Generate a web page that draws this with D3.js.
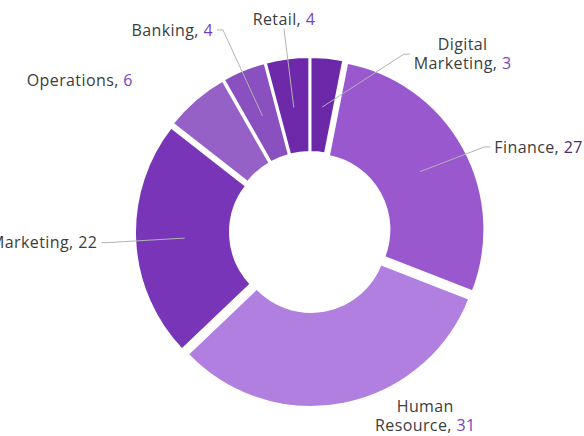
<!DOCTYPE html>
<html>
<head>
<meta charset="utf-8">
<script src="https://cdn.jsdelivr.net/npm/d3@7"></script>
<style>
  html, body { margin: 0; padding: 0; background: #fff; }
  svg { display: block; }
  text { font-family: "Open Sans", "Noto Sans", sans-serif; font-size: 16px; letter-spacing: 0.4px; }
</style>
</head>
<body>
<svg id="chart" width="584" height="436"></svg>
<script>
// data, clockwise from 12 o'clock
const categories = ['Digital Marketing', 'Finance', 'Human Resource', 'Marketing', 'Operations', 'Banking', 'Retail'];
const values = [3, 27, 31, 22, 6, 4, 4];
// label text is split onto lines like the original
const labelLines = [['Digital', 'Marketing, '], ['Finance, '], ['Human', 'Resource, '], ['Marketing, '], ['Operations, '], ['Banking, '], ['Retail, ']];

const sliceColors = ['#6b28a9', '#9a58cf', '#b07fe0', '#7935b8', '#9661c7', '#8a50bf', '#6d29aa'];
const valueColors = ['#7a3fc0', '#4a2b72', '#7a3fc0', '#3d3d3d', '#7a3fc0', '#7a3fc0', '#7a3fc0'];

// where each label sits: angle (deg from top, clockwise), radius, anchor, connector shown?
const labelLayout = [
  { a: 27.8, r: 201, anchor: 'start', line: true },
  { a: 64, r: 194, anchor: 'start', line: true },
  { a: 145.6, r: 204, anchor: 'below', line: false },
  { a: 267, r: 203, anchor: 'end', line: true },
  { a: 312.3, r: 226, anchor: 'end', line: false },
  { a: 336.7, r: 220, anchor: 'end', line: true },
  { a: 352.7, r: 205, anchor: 'above', line: true }
];

const width = 584, height = 436;
const cx = 310, cy = 232;
const outerR = 170, innerR = 75, explode = 5;

const svg = d3.select('#chart');
const g = svg.append('g').attr('transform', `translate(${cx},${cy})`);

const pie = d3.pie().sort(null).value(d => d)(values);
const arc = d3.arc().innerRadius(innerR).outerRadius(outerR);

const polar = (r, a) => [r * Math.sin(a), -r * Math.cos(a)];
const mid = d => (d.startAngle + d.endAngle) / 2;

g.selectAll('.slice')
  .data(pie)
  .join('path')
  .attr('class', 'slice')
  .attr('d', arc)
  .attr('fill', (d, i) => sliceColors[i])
  .attr('stroke', '#fff')
  .attr('stroke-width', 2)
  .attr('transform', d => {
    const [x, y] = polar(explode, mid(d));
    return `translate(${x},${y})`;
  });

const tick = 6, gap = 4, lh = 19;

pie.forEach((d, i) => {
  const lay = labelLayout[i];
  const [px, py] = polar(lay.r, lay.a * Math.PI / 180);
  const dir = lay.anchor === 'start' ? 1 : lay.anchor === 'end' ? -1 : 0;

  if (lay.line) {
    const s = polar((innerR + outerR) / 2 + explode - 2, mid(d));
    const pts = [s, [px, py]];
    if (dir !== 0) pts.push([px + dir * tick, py]);
    g.append('path')
      .attr('d', d3.line()(pts))
      .attr('fill', 'none')
      .attr('stroke', '#b3b3b3')
      .attr('stroke-width', 1);
  }

  const lines = labelLines[i];
  let y0;
  if (lay.anchor === 'above') y0 = py - 9 - (lines.length - 1) * lh;
  else if (lay.anchor === 'below') y0 = py + 6;
  else y0 = py - (lines.length - 1) * lh / 2;

  // multi-line labels are centred on their own block
  const multi = lines.length > 1;
  const text = g.append('text')
    .attr('text-anchor', (multi || dir === 0) ? 'middle' : dir === 1 ? 'start' : 'end')
    .attr('fill', '#3d3d3d');

  const rows = lines.map((t, j) => {
    const ts = text.append('tspan')
      .attr('y', y0 + j * lh)
      .attr('dy', '0.35em')
      .text(t);
    if (j === lines.length - 1) {
      text.append('tspan').attr('fill', valueColors[i]).text(values[i]);
    }
    return ts;
  });

  // set x of each row (the value tspan follows its row)
  let tx = px + dir * (tick + gap);
  if (multi && dir !== 0) {
    const bw = d3.max(lines, (t, j) => {
      const n = rows[j].node().getComputedTextLength();
      return j === lines.length - 1 ? n + text.node().lastChild.getComputedTextLength() : n;
    });
    tx += dir * bw / 2;
  }
  rows.forEach(ts => ts.attr('x', tx));
});
</script>
</body>
</html>
